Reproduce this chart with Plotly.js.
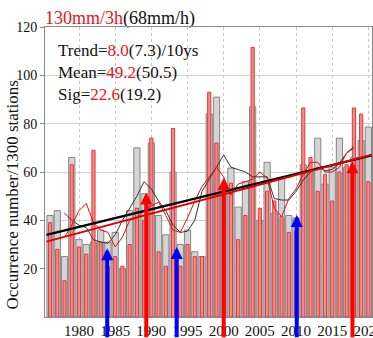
<!DOCTYPE html>
<html>
<head>
<meta charset="utf-8">
<script src="https://cdn.plot.ly/plotly-3.0.1.min.js"></script>
<style>
  html, body { margin: 0; padding: 0; background: #fff; }
  #chart { width: 373px; height: 338px; }
</style>
</head>
<body>
<div id="chart"></div>
<script>
// ---- data ----
const years = [1976,1977,1978,1979,1980,1981,1982,1983,1984,1985,
               1986,1987,1988,1989,1990,1991,1992,1993,1994,1995,
               1996,1997,1998,1999,2000,2001,2002,2003,2004,2005,
               2006,2007,2008,2009,2010,2011,2012,2013,2014,2015,
               2016,2017,2018,2019,2020];
// grey bars: 68mm/h
const grey68 = [42,44,25,66,32,30,31,36,31,35,
                20,44,70,51,72,42,34,60,30,36,
                27,25,84,91,53,61.6,45.5,56,87,40,
                64,43,57.5,42,41,63,60,74,55,62,
                74,62,66,73,78.6];
// red bars: 130mm/3h
const red130 = [39,28,15,63,29,26,69,31,21,25,
                21,30,45,40,74,27,21,78,21,30,
                25,25,93,72,52,55.4,32,42,111.6,45,
                52,48,41.5,35,36,86.5,66,52,59,48,
                60,63,86.5,84,56];
const smoothYears = [1978,1979,1980,1981,1982,1983,1984,1985,1986,1987,
                     1988,1989,1990,1991,1992,1993,1994,1995,1996,1997,
                     1998,1999,2000,2001,2002,2003,2004,2005,2006,2007,
                     2008,2009,2010,2011,2012,2013,2014,2015,2016,2017,2018];
const greySmooth = [43,40,38,37,32,31,30.5,34,40,45,
                    50,56,53,48,44,38,35,35.5,40,52,
                    57,62,67,62,61,60,58,58,58,49,
                    48.4,48.4,52,56.7,60,62,60.5,61,63.7,67.8,70];
const redSmooth = [33,38,44,47,39,36,35,29,33,40,
                   41,44,46,47.5,42,36,35,41,48,54,
                   58,62,58,50.5,55,56,57,60,57.5,45,
                   41.5,49,53,59,64,64,60,60,62,68,70.5];
const trendYears = [1975.5, 2020.5];
const greyTrend = [34.0, 66.9];
const redTrend = [31.2, 67.2];
const blueArrowYears = [1983.9, 1993.5, 2010.1];
const blueArrowTips = [28.5, 29, 42.2];
const redArrowYears = [1989.3, 2000, 2017.8];
const redArrowTips = [51.5, 57.5, 64.5];
const xTickYears = [1980,1985,1990,1995,2000,2005,2010,2015,2020];
const yTickValues = [20,40,60,80,100,120];
const titleRed = '130mm/3h';
const titleBlack = '(68mm/h)';
const statLines = [
  ['Trend=', '8.0', '(7.3)/10ys'],
  ['Mean=', '49.2', '(50.5)'],
  ['Sig=', '22.6', '(19.2)']
];

const FONT = 'Liberation Serif, Times New Roman, serif';
const RED = '#e8141c';
const W = 373, H = 338, ML = 45, MR = 1, MT = 27, MB = 21;
const TITLE_SIZE = 18;

const traces = [
  { type: 'bar', x: years, y: grey68, width: 0.86,
    marker: { color: '#d4d4d4', line: { color: '#858585', width: 1 } },
    hoverinfo: 'skip' },
  { type: 'bar', x: years, y: red130, width: 0.44,
    marker: { color: '#f28a8a', line: { color: '#e03a3a', width: 1 } },
    hoverinfo: 'skip' },
  { type: 'scatter', mode: 'lines', x: smoothYears, y: greySmooth,
    line: { color: '#333333', width: 1 } },
  { type: 'scatter', mode: 'lines', x: smoothYears, y: redSmooth,
    line: { color: '#e01010', width: 1 } },
  { type: 'scatter', mode: 'lines', x: trendYears, y: greyTrend,
    line: { color: '#000000', width: 2.4 } },
  { type: 'scatter', mode: 'lines', x: trendYears, y: redTrend,
    line: { color: '#e00000', width: 2 } },
  // title drawn as a text mark anchored at the top-left corner of the axes
  { type: 'scatter', mode: 'text', x: [1975.3], y: [119.2],
    text: ['<span style="color:' + RED + '">' + titleRed + '</span>' + titleBlack],
    textposition: 'top right', cliponaxis: false, hoverinfo: 'skip',
    textfont: { family: FONT, size: TITLE_SIZE, color: '#111' } }
];

const annotations = [];
annotations.push({
  xref: 'paper', yref: 'paper', x: 0.035, y: 0.96, xanchor: 'left', yanchor: 'top',
  showarrow: false, align: 'left',
  text: statLines.map(l => l[0] + '<span style="color:' + RED + '">' + l[1] + '</span>' + l[2]).join('<br>'),
  font: { family: FONT, size: 17, color: '#111' }
});
annotations.push({
  xref: 'paper', yref: 'paper', x: -0.1, y: 0.42, xanchor: 'center', yanchor: 'middle',
  textangle: -90, showarrow: false,
  text: 'Occurrence number/1300 stations',
  font: { family: FONT, size: 17, color: '#111' }
});
function addArrows(xs, tips, color) {
  xs.forEach((x, i) => {
    annotations.push({
      x: x, y: tips[i], xref: 'x', yref: 'y',
      ax: x, ay: -9, axref: 'x', ayref: 'y',
      text: '', showarrow: true, arrowhead: 2, arrowsize: 0.6,
      arrowwidth: 4, arrowcolor: color, standoff: 0
    });
  });
}
addArrows(blueArrowYears, blueArrowTips, '#0000ff');
addArrows(redArrowYears, redArrowTips, '#ff0000');

const layout = {
  width: W, height: H,
  margin: { l: ML, r: MR, t: MT, b: MB },
  paper_bgcolor: '#fff', plot_bgcolor: '#fff',
  showlegend: false, barmode: 'overlay',
  font: { family: FONT, color: '#111' },
  xaxis: {
    range: [1975.3, 2020.5], tickvals: xTickYears,
    ticktext: xTickYears.map(String), ticklabeloverflow: 'allow',
    showgrid: true, gridcolor: '#c8c8c8', griddash: 'dot', gridwidth: 1,
    showline: true, linecolor: '#8a8a8a', mirror: true, ticks: '',
    tickfont: { family: FONT, size: 15, color: '#111' }, zeroline: false
  },
  yaxis: {
    range: [0, 120], tickvals: yTickValues,
    showgrid: true, gridcolor: '#d0d0d0', gridwidth: 1,
    showline: true, linecolor: '#8a8a8a', mirror: true,
    ticks: 'outside', ticklen: 4, tickcolor: '#8a8a8a',
    tickfont: { family: FONT, size: 14, color: '#111' }, zeroline: false
  },
  annotations: annotations
};

Plotly.newPlot('chart', traces, layout, { staticPlot: true, displayModeBar: false });
</script>
</body>
</html>
